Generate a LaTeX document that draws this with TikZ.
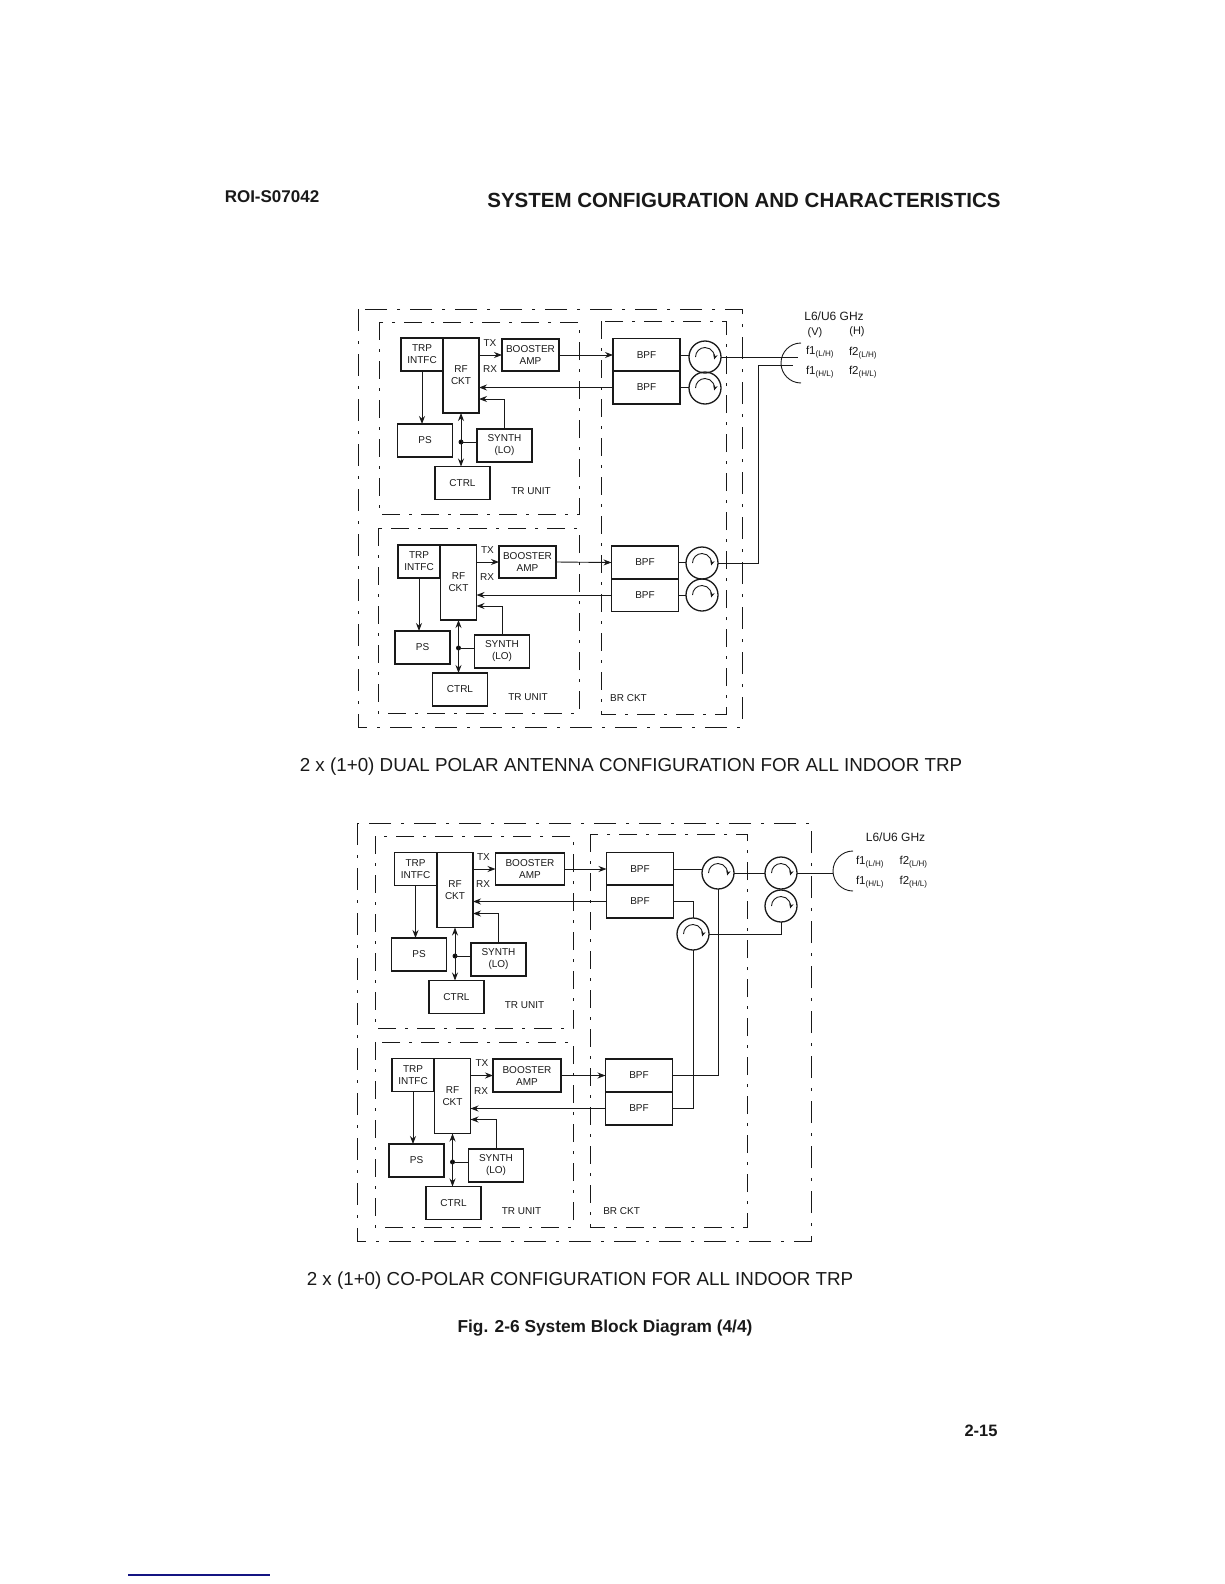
\documentclass[tikz,border=0pt]{standalone}
\usepackage{fontspec}
\setmainfont{Liberation Sans}
\usetikzlibrary{arrows.meta}
\definecolor{ScanBlack}{RGB}{25, 25, 25}
\definecolor{RuleBlue}{RGB}{20, 20, 130}

\begin{document}
\begin{tikzpicture}[x=1pt, y=-1pt, line width=0.9pt, draw=ScanBlack, text=ScanBlack,
    blockbox/.style={draw, line width=1.2pt, inner sep=0pt, outer sep=0pt, minimum width=55pt, minimum height=33pt, align=center, font=\fontsize{10}{12}\selectfont},
    trpbox/.style={blockbox, minimum width=42pt},
    rfbox/.style={blockbox, minimum width=36pt, minimum height=75pt},
    bpfbox/.style={blockbox, minimum width=67pt},
    circulator/.style={draw, circle, line width=1.3pt, inner sep=0pt, outer sep=0pt, minimum size=32pt},
    junction/.style={draw, fill, circle, inner sep=0pt, minimum size=4pt},
    sig/.style={-{Stealth[length=8pt, width=6pt]}},
    bisig/.style={{Stealth[length=8pt, width=6pt]}-{Stealth[length=8pt, width=6pt]}},
    turn/.style={line width=0.9pt, -{Stealth[length=5pt, width=4.5pt]}},
    outerframe/.style={line width=1pt, dash pattern=on 22pt off 10pt on 3pt off 10pt},
    innerframe/.style={line width=0.9pt, dash pattern=on 18pt off 9pt on 3pt off 9pt},
    small/.style={font=\fontsize{10}{12}\selectfont},
    band/.style={font=\fontsize{12}{14}\selectfont},
    pol/.style={font=\fontsize{11}{13}\selectfont},
    tiny/.style={font=\fontsize{11.5}{13}\selectfont}]
    \useasboundingbox (0,0) rectangle (1224,1584);

    % Header
    \node[font=\fontsize{17}{19}\selectfont\bfseries] (docno) at (272,197) {ROI-S07042};
    \node[font=\fontsize{20.5}{23}\selectfont\bfseries] (chapter) at (744,200) {SYSTEM CONFIGURATION AND CHARACTERISTICS};

    % Dual polar frames
    \draw[outerframe] (358,309) rectangle (742,727);
    \draw[innerframe] (379,322) rectangle (579,514);
    \draw[innerframe] (378,528) rectangle (579,713);
    \draw[innerframe] (601,321) rectangle (726,714);

    % Dual polar, TR unit 1
    \node[trpbox] (trpa) at (422,354.5) {TRP\\INTFC};
    \node[rfbox] (rfa) at (461,375.5) {RF\\CKT};
    \node[blockbox, minimum width=57pt, minimum height=32pt] (boostera) at (530.5,355) {BOOSTER\\AMP};
    \node[blockbox] (psa) at (425,440.5) {PS};
    \node[blockbox] (syntha) at (504.5,445.5) {SYNTH\\(LO)};
    \node[blockbox] (ctrla) at (462.5,483) {CTRL};
    \node[junction] (joina) at (461,442) {};
    \node[small] (txa) at (490,343) {TX};
    \node[small] (rxa) at (490,369) {RX};
    \node[small] (unita) at (531,491) {TR UNIT};
    \node[bpfbox] (bpfa) at (646.5,355) {BPF};
    \node[bpfbox] (bpfb) at (646.5,387.5) {BPF};
    \node[circulator] (circa) at (705,357) {};
    \node[circulator] (circb) at (705,388) {};
    \draw[sig] (boostera.west -| rfa.east) -- (boostera.west);
    \draw[sig] (boostera.east) -- (bpfa.west);
    \draw[sig] (bpfb.west) -- (bpfb.west -| rfa.east);
    \draw[sig] (syntha.north) |- ([yshift=14pt]rfa.south east);
    \draw[sig] (trpa.south) -- (trpa.south |- psa.north);
    \draw[bisig] (rfa.south) -- (rfa.south |- ctrla.north);
    \draw (joina) -- (joina -| syntha.west);
    \draw (bpfa.east) -- (bpfa.east -| circa.west);
    \draw (bpfb.east) -- (bpfb.east -| circb.west);
    \draw[turn] ([xshift=-9.5pt]circa.center) arc[start angle=180, end angle=375, radius=9.5];
    \draw[turn] ([xshift=-9.5pt]circb.center) arc[start angle=180, end angle=375, radius=9.5];

    % Dual polar, TR unit 2
    \node[trpbox] (trpc) at (419,561.5) {TRP\\INTFC};
    \node[rfbox] (rfc) at (458.5,582.5) {RF\\CKT};
    \node[blockbox, minimum width=57pt, minimum height=32pt] (boosterc) at (527.5,562) {BOOSTER\\AMP};
    \node[blockbox] (psc) at (422.5,647.5) {PS};
    \node[blockbox] (synthc) at (502,651.5) {SYNTH\\(LO)};
    \node[blockbox] (ctrlc) at (460,689.5) {CTRL};
    \node[junction] (joinc) at (458.5,648) {};
    \node[small] (txc) at (487.5,550) {TX};
    \node[small] (rxc) at (487,577) {RX};
    \node[small] (unitc) at (528,697) {TR UNIT};
    \node[small] (brcktc) at (628.5,698) {BR CKT};
    \node[bpfbox] (bpfc) at (645,562.5) {BPF};
    \node[bpfbox] (bpfd) at (645,595) {BPF};
    \node[circulator] (circc) at (702,563) {};
    \node[circulator] (circd) at (702,595) {};
    \draw[sig] (boosterc.west -| rfc.east) -- (boosterc.west);
    \draw[sig] (boosterc.east) -- (bpfc.west);
    \draw[sig] (bpfd.west) -- (bpfd.west -| rfc.east);
    \draw[sig] (synthc.north) |- ([yshift=14pt]rfc.south east);
    \draw[sig] (trpc.south) -- (trpc.south |- psc.north);
    \draw[bisig] (rfc.south) -- (rfc.south |- ctrlc.north);
    \draw (joinc) -- (joinc -| synthc.west);
    \draw (bpfc.east) -- (bpfc.east -| circc.west);
    \draw (bpfd.east) -- (bpfd.east -| circd.west);
    \draw[turn] ([xshift=-9.5pt]circc.center) arc[start angle=180, end angle=375, radius=9.5];
    \draw[turn] ([xshift=-9.5pt]circd.center) arc[start angle=180, end angle=375, radius=9.5];

    % Dual polar antenna
    \coordinate (feeda) at (798,357);
    \coordinate (feedb) at (793,365);
    \coordinate (bendc) at (758,563);
    \draw (801,343) arc[start angle=-90, end angle=-270, radius=20];
    \draw (circa.east) -- (feeda);
    \draw (circc.east) -- (bendc) |- (feedb);
    \node[band] (banda) at (834,316) {L6/U6 GHz};
    \node[pol] (pola) at (815,333) {(V)};
    \node[pol] (polb) at (857,332) {(H)};
    \node[tiny] (fa) at (820,352) {f1\textsubscript{(L/H)}};
    \node[tiny] (fb) at (863,353) {f2\textsubscript{(L/H)}};
    \node[tiny] (fc) at (820,372) {f1\textsubscript{(H/L)}};
    \node[tiny] (fd) at (863,372) {f2\textsubscript{(H/L)}};
    \node[font=\fontsize{18.8}{21}\selectfont] (captiona) at (631,767) {2 x (1+0) DUAL POLAR ANTENNA CONFIGURATION FOR ALL INDOOR TRP};

    % Co-polar frames
    \draw[outerframe] (357,823) rectangle (811,1241);
    \draw[innerframe] (375,836) rectangle (573,1028);
    \draw[innerframe] (375,1042) rectangle (573,1227);
    \draw[innerframe] (590,834) rectangle (747,1227);

    % Co-polar, TR unit 1
    \node[trpbox] (trpe) at (415.5,869) {TRP\\INTFC};
    \node[rfbox] (rfe) at (455,890) {RF\\CKT};
    \node[blockbox, minimum width=69pt, minimum height=32pt] (boostere) at (530,869) {BOOSTER\\AMP};
    \node[blockbox] (pse) at (419,954.5) {PS};
    \node[blockbox] (synthe) at (498.5,959.5) {SYNTH\\(LO)};
    \node[blockbox] (ctrle) at (456.5,997) {CTRL};
    \node[junction] (joine) at (455,956) {};
    \node[small] (txe) at (483.5,857) {TX};
    \node[small] (rxe) at (483,884) {RX};
    \node[small] (unite) at (524.5,1005) {TR UNIT};
    \node[bpfbox] (bpfe) at (640,869) {BPF};
    \node[bpfbox] (bpff) at (640,901.5) {BPF};
    \draw[sig] (boostere.west -| rfe.east) -- (boostere.west);
    \draw[sig] (boostere.east) -- (bpfe.west);
    \draw[sig] (bpff.west) -- (bpff.west -| rfe.east);
    \draw[sig] (synthe.north) |- ([yshift=14pt]rfe.south east);
    \draw[sig] (trpe.south) -- (trpe.south |- pse.north);
    \draw[bisig] (rfe.south) -- (rfe.south |- ctrle.north);
    \draw (joine) -- (joine -| synthe.west);

    % Co-polar, TR unit 2
    \node[trpbox] (trpg) at (413,1075) {TRP\\INTFC};
    \node[rfbox] (rfg) at (452.5,1096) {RF\\CKT};
    \node[blockbox, minimum width=68pt, minimum height=33pt] (boosterg) at (527,1075.5) {BOOSTER\\AMP};
    \node[blockbox] (psg) at (416.5,1160.5) {PS};
    \node[blockbox] (synthg) at (496,1165.5) {SYNTH\\(LO)};
    \node[blockbox] (ctrlg) at (453.5,1203) {CTRL};
    \node[junction] (joing) at (452.5,1162) {};
    \node[small] (txg) at (482,1063) {TX};
    \node[small] (rxg) at (481,1091) {RX};
    \node[small] (unitg) at (521.5,1211) {TR UNIT};
    \node[small] (brcktg) at (621.6,1211) {BR CKT};
    \node[bpfbox] (bpfg) at (639,1075.5) {BPF};
    \node[bpfbox] (bpfh) at (639,1108.5) {BPF};
    \draw[sig] (boosterg.west -| rfg.east) -- (boosterg.west);
    \draw[sig] (boosterg.east) -- (bpfg.west);
    \draw[sig] (bpfh.west) -- (bpfh.west -| rfg.east);
    \draw[sig] (synthg.north) |- ([yshift=14pt]rfg.south east);
    \draw[sig] (trpg.south) -- (trpg.south |- psg.north);
    \draw[bisig] (rfg.south) -- (rfg.south |- ctrlg.north);
    \draw (joing) -- (joing -| synthg.west);

    % Co-polar circulators
    \node[circulator] (circe) at (718,873) {};
    \node[circulator] (circf) at (781,873) {};
    \node[circulator] (circg) at (781,906) {};
    \node[circulator] (circh) at (693,934) {};
    \draw (bpfe.east) -- (bpfe.east -| circe.west);
    \draw (circe.east) -- (circf.west);
    \draw (bpff.east) -| (circh.north);
    \draw (circg.south) |- (circh.east);
    \draw (circe.south) |- (bpfg.east);
    \draw (circh.south) |- (bpfh.east);
    \draw[turn] ([xshift=-9.5pt]circe.center) arc[start angle=180, end angle=375, radius=9.5];
    \draw[turn] ([xshift=-9.5pt]circf.center) arc[start angle=180, end angle=375, radius=9.5];
    \draw[turn] ([xshift=-9.5pt]circg.center) arc[start angle=180, end angle=375, radius=9.5];
    \draw[turn] ([xshift=-9.5pt]circh.center) arc[start angle=180, end angle=375, radius=9.5];

    % Co-polar antenna
    \coordinate (feede) at (833,873);
    \draw (853,851) arc[start angle=-90, end angle=-270, radius=20];
    \draw (circf.east) -- (feede);
    \node[band] (bandb) at (895.5,837) {L6/U6 GHz};
    \node[tiny] (fe) at (870,862) {f1\textsubscript{(L/H)}};
    \node[tiny] (ff) at (913.6,862) {f2\textsubscript{(L/H)}};
    \node[tiny] (fg) at (870,882) {f1\textsubscript{(H/L)}};
    \node[tiny] (fh) at (913.6,882) {f2\textsubscript{(H/L)}};
    \node[font=\fontsize{18.8}{21}\selectfont] (captionb) at (580,1281) {2 x (1+0) CO-POLAR CONFIGURATION FOR ALL INDOOR TRP};

    % Footer
    \node[font=\fontsize{17.3}{19}\selectfont\bfseries] (figcap) at (605,1328) {Fig. 2-6 System Block Diagram (4/4)};
    \node[font=\fontsize{16.5}{18}\selectfont\bfseries] (pageno) at (981,1431) {2-15};
    \draw[RuleBlue, line width=1.3pt] (128,1575) -- (270,1575);
\end{tikzpicture}
\end{document}
